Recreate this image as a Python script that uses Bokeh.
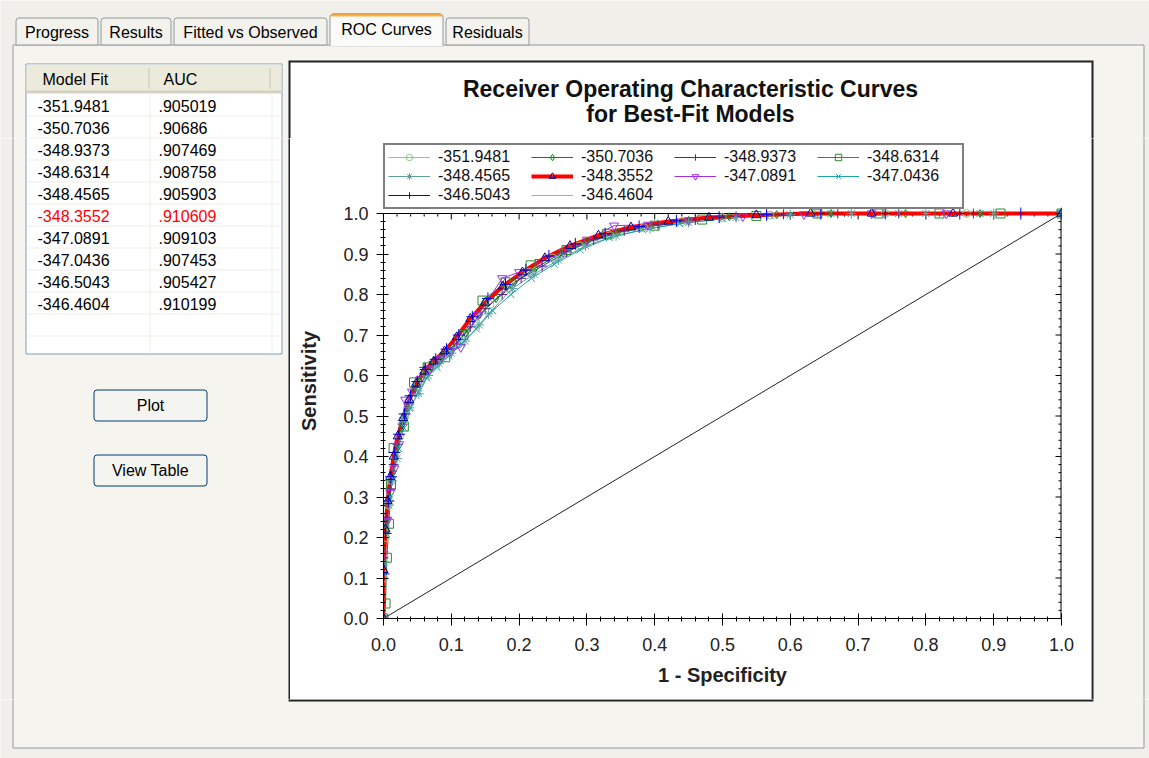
from bokeh.plotting import figure
from bokeh.layouts import column, row
from bokeh.models import (Range1d, SingleIntervalTicker, PrintfTickFormatter,
                          Legend, LegendItem)
from bokeh.core.properties import value
from bokeh.embed import file_html
from bokeh.resources import INLINE

# ---------------- data ----------------
model_fit = [-351.9481, -350.7036, -348.9373, -348.6314, -348.4565,
             -348.3552, -347.0891, -347.0436, -346.5043, -346.4604]
auc = [0.905019, 0.90686, 0.907469, 0.908758, 0.905903,
       0.910609, 0.909103, 0.907453, 0.905427, 0.910199]
best_index = 5

tab_names = ["Progress", "Results", "Fitted vs Observed", "ROC Curves", "Residuals"]
table_header = ["Model Fit", "AUC"]
button_labels = ["Plot", "View Table"]
title_lines = ["Receiver Operating Characteristic Curves", "for Best-Fit Models"]
x_label = "1 - Specificity"
y_label = "Sensitivity"
chance_x = [0.0, 1.0]
chance_y = [0.0, 1.0]

fpr_1 = [0, 0, 0.003, 0.007, 0.012, 0.017, 0.024, 0.032, 0.041, 0.051, 0.063, 0.078, 0.095, 0.113, 0.134, 0.157, 0.184, 0.214, 0.249, 0.289, 0.334, 0.384, 0.44, 0.5, 0.57, 0.64, 0.74, 0.86, 1.0]
tpr_1 = [0, 0.10, 0.20, 0.28, 0.34, 0.40, 0.45, 0.50, 0.545, 0.58, 0.605, 0.63, 0.655, 0.685, 0.73, 0.775, 0.815, 0.855, 0.89, 0.92, 0.945, 0.965, 0.98, 0.99, 0.996, 1.0, 1.0, 1.0, 1.0]
fpr_2 = [0, 0, 0.004, 0.009, 0.014, 0.02, 0.027, 0.036, 0.046, 0.057, 0.07, 0.085, 0.102, 0.121, 0.142, 0.166, 0.193, 0.224, 0.26, 0.3, 0.345, 0.395, 0.45, 0.51, 0.58, 0.66, 0.77, 0.88, 1.0]
tpr_2 = [0, 0.18, 0.24, 0.30, 0.36, 0.42, 0.47, 0.52, 0.565, 0.595, 0.62, 0.645, 0.67, 0.705, 0.75, 0.79, 0.83, 0.865, 0.9, 0.93, 0.953, 0.97, 0.983, 0.992, 0.997, 1.0, 1.0, 1.0, 1.0]
fpr_3 = [0, 0, 0.005, 0.01, 0.015, 0.021, 0.028, 0.037, 0.047, 0.06, 0.074, 0.09, 0.108, 0.128, 0.15, 0.175, 0.203, 0.234, 0.27, 0.31, 0.355, 0.405, 0.46, 0.52, 0.59, 0.67, 0.76, 0.87, 1.0]
tpr_3 = [0, 0.15, 0.25, 0.32, 0.38, 0.43, 0.48, 0.53, 0.57, 0.62, 0.635, 0.655, 0.68, 0.72, 0.765, 0.80, 0.84, 0.87, 0.905, 0.935, 0.957, 0.972, 0.984, 0.993, 0.998, 1.0, 1.0, 1.0, 1.0]
fpr_4 = [0, 0.003, 0.005, 0.008, 0.011, 0.015, 0.03, 0.045, 0.065, 0.091, 0.118, 0.146, 0.18, 0.217, 0.27, 0.33, 0.4, 0.47, 0.55, 0.64, 0.73, 0.82, 0.91, 1.0]
tpr_4 = [0, 0.037, 0.15, 0.234, 0.33, 0.421, 0.474, 0.583, 0.62, 0.645, 0.70, 0.785, 0.83, 0.872, 0.91, 0.95, 0.97, 0.985, 0.994, 1.0, 1.0, 1.0, 1.0, 1.0]
fpr_5 = [0, 0, 0.004, 0.008, 0.013, 0.02, 0.028, 0.038, 0.052, 0.066, 0.082, 0.1, 0.12, 0.141, 0.155, 0.19, 0.222, 0.258, 0.298, 0.343, 0.393, 0.45, 0.52, 0.6, 0.69, 0.8, 0.9, 1.0]
tpr_5 = [0, 0.14, 0.21, 0.28, 0.34, 0.395, 0.489, 0.52, 0.555, 0.60, 0.63, 0.655, 0.685, 0.725, 0.752, 0.815, 0.85, 0.885, 0.92, 0.945, 0.963, 0.978, 0.99, 0.997, 1.0, 1.0, 1.0, 1.0]
fpr_6 = [0, 0, 0.003, 0.006, 0.01, 0.015, 0.021, 0.029, 0.038, 0.048, 0.06, 0.074, 0.09, 0.108, 0.128, 0.15, 0.176, 0.205, 0.238, 0.275, 0.317, 0.365, 0.42, 0.48, 0.55, 0.63, 0.72, 0.84, 1.0]
tpr_6 = [0, 0.12, 0.22, 0.29, 0.35, 0.40, 0.45, 0.495, 0.54, 0.58, 0.61, 0.635, 0.66, 0.695, 0.74, 0.78, 0.82, 0.855, 0.89, 0.92, 0.946, 0.966, 0.98, 0.99, 0.996, 1.0, 1.0, 1.0, 1.0]
fpr_7 = [0, 0, 0.005, 0.01, 0.016, 0.023, 0.032, 0.042, 0.054, 0.068, 0.084, 0.1, 0.114, 0.14, 0.175, 0.2, 0.23, 0.265, 0.3, 0.34, 0.39, 0.45, 0.53, 0.62, 0.72, 0.83, 1.0]
tpr_7 = [0, 0.16, 0.24, 0.31, 0.37, 0.43, 0.54, 0.56, 0.59, 0.615, 0.64, 0.66, 0.67, 0.75, 0.84, 0.855, 0.88, 0.905, 0.935, 0.97, 0.972, 0.983, 0.993, 0.998, 1.0, 1.0, 1.0]
fpr_8 = [0, 0, 0.004, 0.009, 0.015, 0.022, 0.03, 0.04, 0.051, 0.064, 0.079, 0.096, 0.115, 0.137, 0.161, 0.188, 0.218, 0.252, 0.29, 0.333, 0.382, 0.437, 0.5, 0.57, 0.66, 0.76, 0.88, 1.0]
tpr_8 = [0, 0.13, 0.23, 0.30, 0.37, 0.42, 0.47, 0.52, 0.56, 0.595, 0.62, 0.648, 0.678, 0.715, 0.76, 0.80, 0.84, 0.875, 0.91, 0.94, 0.96, 0.975, 0.987, 0.995, 1.0, 1.0, 1.0, 1.0]
fpr_9 = [0, 0, 0.003, 0.007, 0.011, 0.016, 0.023, 0.031, 0.04, 0.05, 0.062, 0.077, 0.093, 0.111, 0.131, 0.154, 0.18, 0.21, 0.244, 0.283, 0.327, 0.377, 0.432, 0.495, 0.565, 0.645, 0.74, 0.85, 0.94, 1.0]
tpr_9 = [0, 0.11, 0.21, 0.29, 0.35, 0.41, 0.455, 0.505, 0.55, 0.585, 0.615, 0.64, 0.665, 0.70, 0.745, 0.79, 0.825, 0.86, 0.895, 0.925, 0.95, 0.968, 0.982, 0.991, 0.997, 1.0, 1.0, 1.0, 1.0, 1.0]
fpr_10 = [0, 0, 0.003, 0.006, 0.01, 0.015, 0.022, 0.03, 0.039, 0.049, 0.061, 0.075, 0.091, 0.109, 0.129, 0.152, 0.178, 0.207, 0.24, 0.278, 0.32, 0.368, 0.423, 0.485, 0.555, 0.635, 0.73, 0.85, 1.0]
tpr_10 = [0, 0.13, 0.22, 0.30, 0.36, 0.41, 0.46, 0.505, 0.55, 0.585, 0.615, 0.64, 0.665, 0.70, 0.745, 0.785, 0.825, 0.858, 0.892, 0.923, 0.948, 0.967, 0.981, 0.991, 0.997, 1.0, 1.0, 1.0, 1.0]

fpr_all = [fpr_1, fpr_2, fpr_3, fpr_4, fpr_5, fpr_6, fpr_7, fpr_8, fpr_9, fpr_10]
tpr_all = [tpr_1, tpr_2, tpr_3, tpr_4, tpr_5, tpr_6, tpr_7, tpr_8, tpr_9, tpr_10]

# ---------------- styles ----------------
line_colors = ["#8FC48F", "#008A00", "#55218F", "#2E8B2E", "#5F9EA0",
               "#FF0000", "#A030E8", "#20A4A4", "#0000FF", "#AAAAAA"]
marker_colors = ["#8FC48F", "#008A00", "#55218F", "#2E8B2E", "#5F9EA0",
                 "#00008B", "#A030E8", "#20A4A4", "#0000FF", None]
markers = ["circle", "diamond", "cross", "square", "asterisk",
           "triangle", "inverted_triangle", "x", "cross", None]
marker_sizes = [8, 8, 10, 9, 10, 9, 9, 10, 12, 0]
line_widths = [1, 1, 1, 1, 1, 4, 1, 1, 1, 1]

FONT = "Liberation Sans"
BG = "#F0EFEA"
PANEL = "#F5F4EF"
EDGE = "#919B9C"

TAB_SPANS = [(15, 98), (100, 171), (173, 327), (329, 443), (445, 529)]
SELECTED_TAB = 3


def no_align(f):
    if "frame_align" in f.properties():
        f.frame_align = False


def rounded(r, radius):
    if "border_radius" in r.glyph.properties():
        r.glyph.border_radius = radius


def draw_ui(f, x0, y0, x1, y1):
    tf = value(FONT)

    def txt(xs, ys, texts, colors="#000000", **kw):
        keep = [i for i, (xx, yy) in enumerate(zip(xs, ys))
                if y0 + 6 <= yy <= y1 - 6 and x0 + 10 <= xx <= x1 - 10]
        if not keep:
            return
        cl = colors if isinstance(colors, list) else [colors] * len(xs)
        f.text(x=[xs[i] for i in keep], y=[ys[i] for i in keep],
               text=[texts[i] for i in keep], text_color=[cl[i] for i in keep],
               text_font=tf, text_baseline="middle", **kw)

    # tab page
    f.quad(left=[12.5], right=[1143.5], top=[44.5], bottom=[747.5],
           fill_color=PANEL, line_color=EDGE)
    # tabs
    for i, (name, (l, r)) in enumerate(zip(tab_names, TAB_SPANS)):
        if i == SELECTED_TAB:
            continue
        q = f.quad(left=[l + 0.5], right=[r - 0.5], top=[17.5], bottom=[44.5],
                   fill_color="#F3F2EC", line_color=EDGE)
        rounded(q, (3, 3, 0, 0))
        txt([(l + r) / 2], [31.5], [name], text_font_size="16px", text_align="center")
    l, r = TAB_SPANS[SELECTED_TAB]
    q = f.quad(left=[l + 0.5], right=[r - 0.5], top=[13.5], bottom=[45.5],
               fill_color="#FAFAF8", line_color=EDGE)
    rounded(q, (3, 3, 0, 0))
    f.quad(left=[l + 1], right=[r - 1], top=[44], bottom=[46],
           fill_color="#FAFAF8", line_color=None)
    q = f.quad(left=[l + 1], right=[r - 1], top=[13], bottom=[16],
               fill_color="#F8B44C", line_color=None)
    rounded(q, (3, 3, 0, 0))
    f.quad(left=[l + 3], right=[r - 3], top=[13], bottom=[14],
           fill_color="#E68B2C", line_color=None)
    txt([(l + r) / 2], [29], [tab_names[SELECTED_TAB]], text_font_size="16px",
        text_align="center")

    # table
    f.quad(left=[25.5], right=[281.5], top=[63.5], bottom=[353.5],
           fill_color="white", line_color="#7F9DB9")
    f.quad(left=[26], right=[281], top=[64], bottom=[92],
           fill_color="#EBEADB", line_color=None)
    f.quad(left=[26], right=[281], top=[90], bottom=[93],
           fill_color="#D6D2C2", line_color=None)
    f.segment(x0=[148.5, 269.5], y0=[68, 68], x1=[148.5, 269.5], y1=[88, 88],
              line_color="#C7C5B2", line_width=1)
    row_lines = [115.5 + 22 * k for k in range(11)]
    f.segment(x0=[26] * len(row_lines), y0=row_lines, x1=[281] * len(row_lines),
              y1=row_lines, line_color="#EDEDE6", line_width=1)
    f.segment(x0=[149.5, 271.5], y0=[93, 93], x1=[149.5, 271.5], y1=[353, 353],
              line_color="#EDEDE6", line_width=1)
    txt([42, 163], [79, 79], table_header, text_font_size="16px")
    ys = [105 + 22 * i for i in range(len(model_fit))]
    cols = ["#FF0000" if i == best_index else "#000000" for i in range(len(model_fit))]
    txt([37] * len(model_fit), ys, [str(v) for v in model_fit], cols,
        text_font_size="16px")
    txt([158] * len(auc), ys, [str(v)[1:] for v in auc], cols,
        text_font_size="16px")

    # buttons
    for (t, b), lab in zip([(389.5, 420.5), (454.5, 485.5)], button_labels):
        q = f.quad(left=[93.5], right=[206.5], top=[t], bottom=[b],
                   fill_color="#F4F4F0", line_color="#003C74", line_width=1)
        rounded(q, 3)
        txt([150], [(t + b) / 2], [lab], text_font_size="16px", text_align="center")

    # chart box
    f.quad(left=[288], right=[1093], top=[60], bottom=[701],
           fill_color="#222222", line_color=None)
    f.quad(left=[290], right=[1091], top=[62], bottom=[699],
           fill_color="white", line_color=None)
    txt([690, 690], [88, 113], title_lines, "#111111", text_font_size="23px",
        text_font_style="bold", text_align="center")


def make_tile(x0, y0, x1, y1):
    f = figure(width=x1 - x0, height=y1 - y0, x_range=Range1d(x0, x1),
               y_range=Range1d(y1, y0), output_backend="svg",
               toolbar_location=None, tools="", min_border=0,
               x_axis_location=None, y_axis_location=None,
               background_fill_color=BG, border_fill_color=BG,
               outline_line_color=None)
    f.grid.visible = False
    no_align(f)
    draw_ui(f, x0, y0, x1, y1)
    return f


# ---------------- chart ----------------
CT, CB, CL, CR = 138, 699, 290, 1091
FRAME_TOP, FRAME_BOTTOM, FRAME_LEFT, FRAME_RIGHT = 143, 618, 383, 1061
PX_PER_UNIT_Y = 405.0
PX_PER_UNIT_X = 678.0
Y_TOP = 1.0 + (213 - FRAME_TOP) / PX_PER_UNIT_Y   # room above 1.0 for the legend

p = figure(width=CR - CL, height=CB - CT, x_range=Range1d(0, 1),
           y_range=Range1d(0, Y_TOP), output_backend="svg",
           toolbar_location=None, tools="",
           min_border_left=FRAME_LEFT - CL, min_border_right=CR - FRAME_RIGHT,
           min_border_top=FRAME_TOP - CT, min_border_bottom=CB - FRAME_BOTTOM,
           background_fill_color="white", border_fill_color="white",
           outline_line_color=None)
p.grid.visible = False
no_align(p)

for ax, lab in ((p.xaxis[0], x_label), (p.yaxis[0], y_label)):
    ax.ticker = SingleIntervalTicker(interval=0.1, num_minor_ticks=5)
    ax.formatter = PrintfTickFormatter(format="%.1f")
    ax.bounds = (0, 1)
    ax.axis_label = lab
    ax.axis_label_text_font = FONT
    ax.axis_label_text_font_size = "20px"
    ax.axis_label_text_font_style = "bold"
    ax.axis_label_text_color = "#222222"
    ax.major_label_text_font = FONT
    ax.major_label_text_font_size = "18px"
    ax.major_label_text_color = "#222222"
    ax.axis_line_color = "black"
    ax.major_tick_line_color = "black"
    ax.minor_tick_line_color = "black"
    ax.major_tick_in = 5
    ax.major_tick_out = 7
    ax.minor_tick_in = 2
    ax.minor_tick_out = 3
p.xaxis[0].major_label_standoff = 12
p.xaxis[0].axis_label_standoff = 10
p.yaxis[0].major_label_standoff = 8
p.yaxis[0].axis_label_standoff = 20

# top and right borders of the plot area with inward ticks
major_pos = [i / 10 for i in range(11)]
minor_pos = [i / 50 for i in range(51) if i % 5]
p.segment(x0=[0, 1], y0=[1, 0], x1=[1, 1], y1=[1, 1], line_color="black", line_width=[1, 2])
p.segment(x0=major_pos, y0=[1] * len(major_pos), x1=major_pos,
          y1=[1 - 6 / PX_PER_UNIT_Y] * len(major_pos), line_color="black")
p.segment(x0=minor_pos, y0=[1] * len(minor_pos), x1=minor_pos,
          y1=[1 - 3 / PX_PER_UNIT_Y] * len(minor_pos), line_color="black")
p.segment(x0=[1] * len(major_pos), y0=major_pos,
          x1=[1 - 6 / PX_PER_UNIT_X] * len(major_pos), y1=major_pos, line_color="black")
p.segment(x0=[1] * len(minor_pos), y0=minor_pos,
          x1=[1 - 3 / PX_PER_UNIT_X] * len(minor_pos), y1=minor_pos, line_color="black")

p.line(chance_x, chance_y, line_color="#222222", line_width=1)

order = [9, 0, 1, 2, 3, 4, 6, 7, 8, 5]
line_r = {}
for i in order:
    line_r[i] = p.line(fpr_all[i], tpr_all[i], line_color=line_colors[i],
                       line_width=line_widths[i])
mark_r = {}
for i in order:
    if markers[i] is None:
        continue
    mark_r[i] = p.scatter(fpr_all[i], tpr_all[i], marker=markers[i],
                          size=marker_sizes[i], line_color=marker_colors[i],
                          fill_color=None, line_width=1)

items = []
for i in range(len(model_fit)):
    rs = [line_r[i]] + ([mark_r[i]] if i in mark_r else [])
    items.append(LegendItem(label=str(model_fit[i]), renderers=rs))

legend = Legend(items=items, orientation="horizontal", ncols=4,
                location="top_left", margin=0, padding=3, spacing=1,
                glyph_width=42, glyph_height=16, label_standoff=8,
                label_width=92, label_height=16,
                border_line_color="black", border_line_width=2,
                background_fill_color="white", background_fill_alpha=1.0,
                label_text_font=FONT, label_text_font_size="16px",
                label_text_color="#111111")
p.add_layout(legend, "center")

# ---------------- layout ----------------
top = make_tile(0, 0, 1149, CT)
left = make_tile(0, CT, CL, CB)
right = make_tile(CR, CT, 1149, CB)
bottom = make_tile(0, CB, 1149, 758)

page = column(top, row(left, p, right, spacing=0), bottom, spacing=0)

open("out.html", "w").write(file_html(page, INLINE))
